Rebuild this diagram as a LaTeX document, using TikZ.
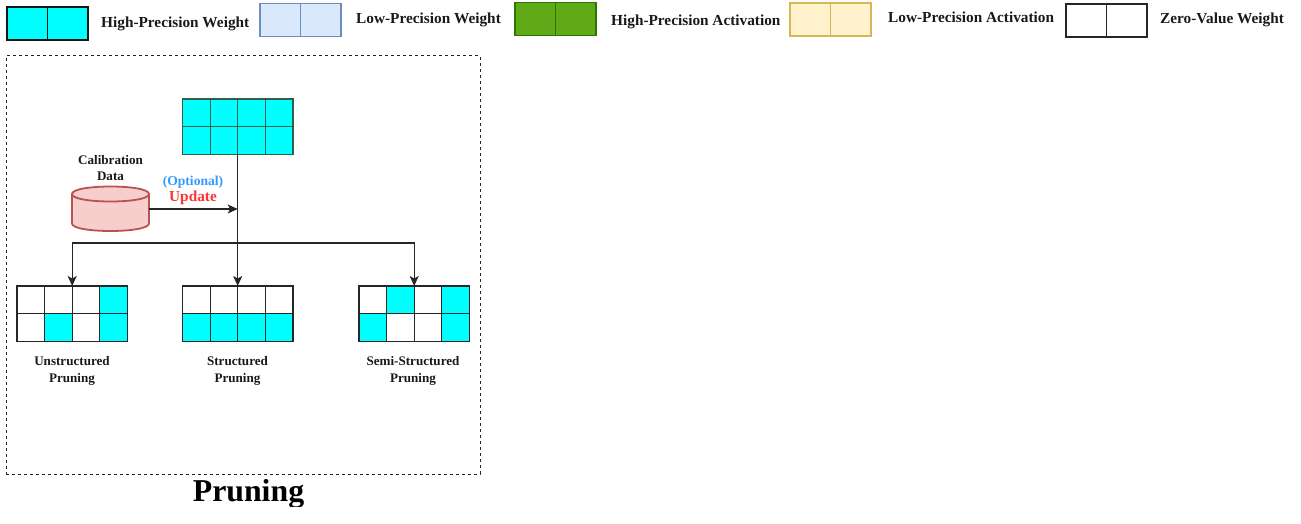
\documentclass[tikz,border=0pt]{standalone}
\usepackage{fontspec}
\setmainfont{Liberation Serif}
\usetikzlibrary{arrows.meta,positioning}
\definecolor{hpw}{HTML}{00FFFF}
\definecolor{lpwf}{HTML}{DAE8FC}\definecolor{lpwd}{HTML}{6C8EBF}
\definecolor{hpaf}{HTML}{60A917}\definecolor{hpad}{HTML}{2D7600}
\definecolor{lpaf}{HTML}{FFF2CC}\definecolor{lpad}{HTML}{D6B656}
\definecolor{dbf}{HTML}{F8CECC}\definecolor{dbd}{HTML}{B85450}
\definecolor{gridtop}{HTML}{2F5F45}
\definecolor{opt}{HTML}{3399FF}\definecolor{upd}{HTML}{FF3333}
\tikzset{
  x=1pt,y=-1pt,
  cell/.style={draw=#1,line width=1.2pt,inner sep=0pt,outer sep=0pt,minimum width=27.6pt,minimum height=27.6pt,anchor=north west},
  legcell/.style={draw=#1,line width=1.2pt,inner sep=0pt,outer sep=0pt,minimum width=40.5pt,minimum height=33pt,anchor=north west},
  legtext/.style={font=\fontsize{15.3}{17}\selectfont\bfseries,anchor=base west,inner sep=0pt,text=black!90},
  lab/.style={font=\fontsize{13.1}{16.8}\selectfont\bfseries,align=center,inner sep=0pt,text=black!90},
  conn/.style={draw=black!85,line width=1.3pt},
  arr/.style={conn,-{Stealth[length=10pt,width=9pt,inset=2.5pt]}},
  dbline/.style={draw=dbd,line width=1.8pt},
}
% \leg{name}{x}{y}{fill}{draw}
\newcommand{\leg}[5]{%
  \node[legcell=#5,fill=#4] (#1a) at (#2,#3) {};
  \node[legcell=#5,fill=#4] (#1b) at (#2+40.5,#3) {};}
% \gridcells{name}{x}{y}{draw}{eight fills}
\newcommand{\gridcells}[5]{%
  \foreach \fc [count=\i from 0] in {#5}{%
    \pgfmathsetmacro{\cx}{#2+27.6*mod(\i,4)}
    \pgfmathsetmacro{\cy}{#3+27.6*int(\i/4)}
    \node[cell=#4,fill=\fc] (#1-\i) at (\cx,\cy) {};
  }}
\begin{document}
\begin{tikzpicture}
\useasboundingbox (0,0) rectangle (1301,524);
% legend
\leg{l1}{7}{7}{hpw}{black!75!gridtop}
\node[legtext] (t1) at (101,28) {High-Precision Weight};
\leg{l2}{260}{3.5}{lpwf}{lpwd}
\node[legtext] (t2) at (356,24) {Low-Precision Weight};
\leg{l3}{515}{2.5}{hpaf}{hpad}
\node[legtext] (t3) at (611,26) {High-Precision Activation};
\leg{l4}{790}{3}{lpaf}{lpad}
\node[legtext] (t4) at (888,23) {Low-Precision Activation};
\leg{l5}{1066}{4}{white}{black!85}
\node[legtext] (t5) at (1160,24) {Zero-Value Weight};
% frame
\node[draw=black!85,dashed,line width=1pt,inner sep=0pt,outer sep=0pt,minimum width=474pt,minimum height=418pt,anchor=north west] (frame) at (6,56) {};
\begin{scope}
\clip (0,470) rectangle (1301,506.5);
\node[font=\fontsize{31.8}{36}\selectfont\bfseries,inner sep=0pt,anchor=base] (title) at (248.5,501) {Pruning};
\end{scope}
% grids
\gridcells{top}{182.5}{99}{gridtop}{hpw,hpw,hpw,hpw,hpw,hpw,hpw,hpw}
\gridcells{un}{17}{286}{black!85}{white,white,white,hpw,white,hpw,white,hpw}
\gridcells{st}{182.5}{286}{black!85}{white,white,white,white,hpw,hpw,hpw,hpw}
\gridcells{se}{359}{286}{black!85}{white,hpw,white,hpw,hpw,white,white,hpw}
% database
\node[inner sep=0pt,outer sep=0pt,minimum width=77pt,minimum height=45pt] (db) at (110.5,208.5) {};
\draw[dbline,fill=dbf]
  (72,194) -- (72,223.5) .. controls (72,233.5) and (149,233.5) .. (149,223.5)
  -- (149,194) .. controls (149,184) and (72,184) .. (72,194) -- cycle;
\draw[dbline] (72,194) .. controls (72,204) and (149,204) .. (149,194);
\node[lab] (dbl) at (110.5,168) {Calibration\\Data};
\node[lab,font=\fontsize{13.6}{16}\selectfont\bfseries,text=opt] (optl) at (193,182) {(Optional)};
\node[font=\fontsize{15.3}{16}\selectfont\bfseries,inner sep=0pt,text=upd] (updl) at (193,198) {Update};
% labels
\node[lab] (unl) at (72,371) {Unstructured\\Pruning};
\node[lab] (stl) at (237.5,371) {Structured\\Pruning};
\node[lab] (sel) at (413,371) {Semi-Structured\\Pruning};
% connectors
\coordinate (join) at (top-5.south east |- 0,243);
\coordinate (mid) at (top-5.south east |- 0,209);
\draw[arr] (top-5.south east) -- (st-1.north east);
\draw[arr] (db.east |- mid) -- (mid);
\draw[arr] (join) -- (un-1.north east |- join) -- (un-1.north east);
\draw[arr] (join) -- (se-1.north east |- join) -- (se-1.north east);
\end{tikzpicture}
\end{document}
